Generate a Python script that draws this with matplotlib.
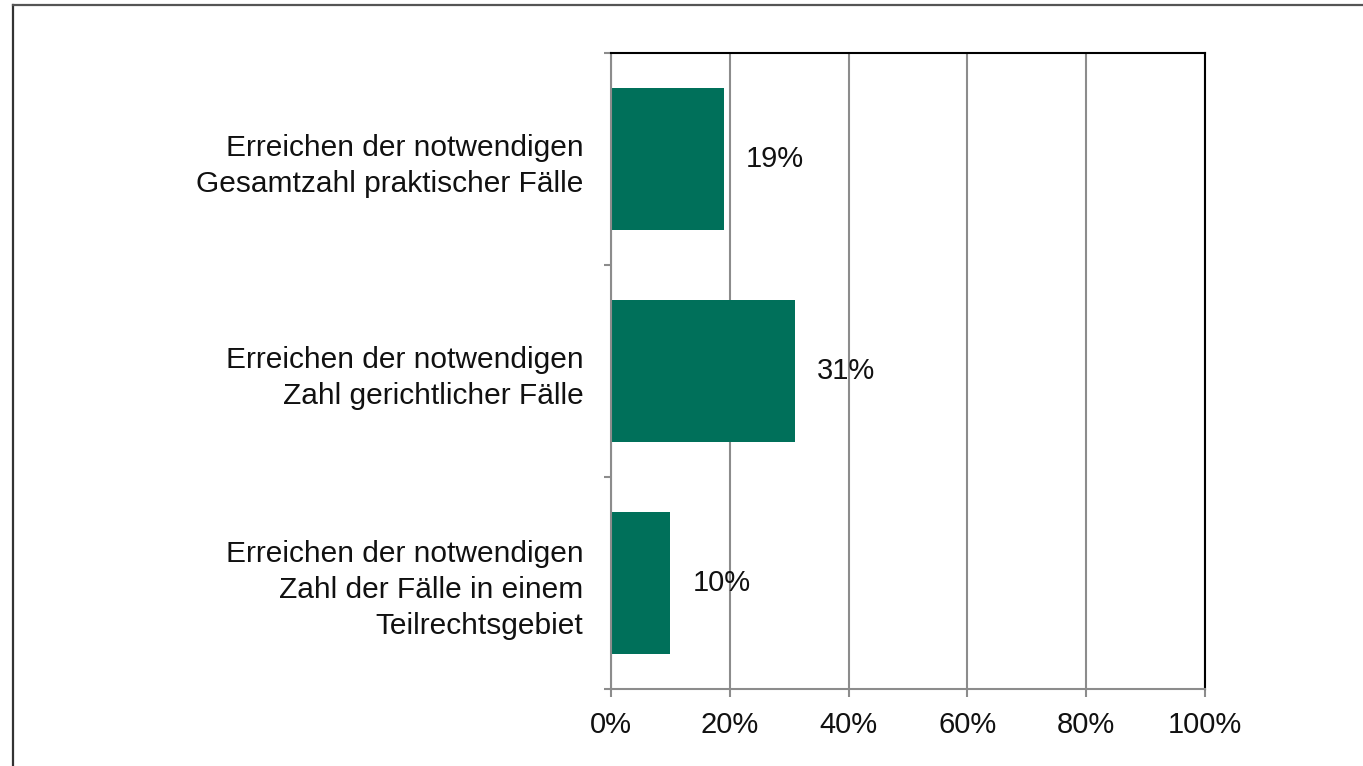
import matplotlib
matplotlib.use("Agg")
import matplotlib.pyplot as plt
from matplotlib.lines import Line2D
import numpy as np

plt.rcParams['font.family'] = ['Liberation Sans', 'DejaVu Sans']

categories = [
    "Erreichen der notwendigen\nGesamtzahl praktischer Fälle",
    "Erreichen der notwendigen\nZahl gerichtlicher Fälle",
    "Erreichen der notwendigen\nZahl der Fälle in einem\nTeilrechtsgebiet",
]
values = [19, 31, 10]
xticks = [0, 20, 40, 60, 80, 100]

bar_color = '#00705A'
grid_color = '#8c8c8c'
text_color = '#111111'

fig = plt.figure(figsize=(13.63, 7.66), dpi=100)
ax = fig.add_axes([0.4483, 0.1005, 0.4358, 0.8303])

ypos = np.arange(len(categories))
ax.barh(ypos, values, height=0.667, color=bar_color, zorder=2)
ax.set_ylim(len(categories) - 0.5, -0.5)
ax.set_xlim(0, 100)

# value labels
for y, v in zip(ypos, values):
    ax.text(v + 3.7, y, f"{v}%", va='center', ha='left', fontsize=21,
            color=text_color, zorder=3)

# x axis
ax.set_xticks(xticks)
ax.set_xticklabels([f"{t}%" for t in xticks], fontsize=21, color=text_color)
ax.tick_params(axis='x', direction='out', length=6, width=1.5, color=grid_color, pad=10)
ax.xaxis.grid(True, color=grid_color, linewidth=1.5, zorder=0)
ax.set_axisbelow(True)

# y axis: ticks at category boundaries, labels at centers
ax.set_yticks(np.arange(len(categories) + 1) - 0.5)
ax.set_yticklabels([])
ax.tick_params(axis='y', which='major', direction='out', length=5, width=1.5, color=grid_color)
ax.set_yticks(ypos, minor=True)
ax.set_yticklabels(categories, minor=True, fontsize=21.5, color=text_color,
                   linespacing=1.35)
ax.tick_params(axis='y', which='minor', length=0, pad=20)

for s in ['left', 'bottom']:
    ax.spines[s].set_color(grid_color)
    ax.spines[s].set_linewidth(1.5)
for s in ['top', 'right']:
    ax.spines[s].set_color('black')
    ax.spines[s].set_linewidth(1.5)

# page frame (top and left edges)
fig.add_artist(Line2D([0.0099, 0.0099], [0, 0.9935], transform=fig.transFigure,
                      color='#333333', linewidth=1.6))
fig.add_artist(Line2D([0.0099, 1.0], [0.9935, 0.9935], transform=fig.transFigure,
                      color='#555555', linewidth=1.6))

fig.savefig('out.png', dpi=100)
